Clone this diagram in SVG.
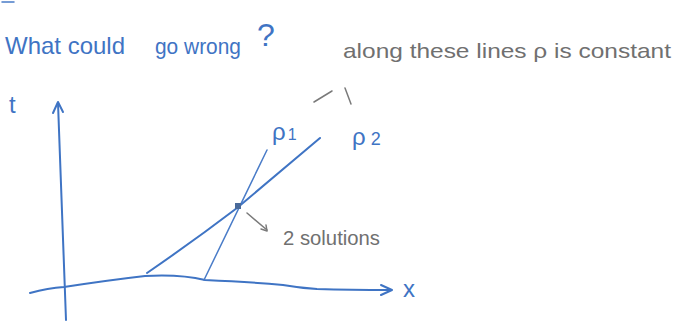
<svg xmlns="http://www.w3.org/2000/svg" width="679" height="325" viewBox="0 0 679 325">
<style>
.ink{fill:none;stroke:#3f74c4;stroke-width:2;stroke-linecap:round;stroke-linejoin:round}
.thin{fill:none;stroke:#4a7cc8;stroke-width:1.5;stroke-linecap:round}
.grey{fill:none;stroke:#7a7a7a;stroke-width:1.5;stroke-linecap:round;stroke-linejoin:round}
.bt{fill:#3f74c4;font-family:"Liberation Sans",Arial,sans-serif}
.gt{fill:#707070;font-family:"Liberation Sans",Arial,sans-serif}
</style>
<rect width="679" height="325" fill="#ffffff"/>
<g id="title">
<path class="thin" d="M2 2 L14 2"/>
<text class="bt" font-size="24" x="5" y="54" textLength="120" lengthAdjust="spacingAndGlyphs">What could</text>
<text class="bt" font-size="22" x="155" y="54" textLength="86" lengthAdjust="spacingAndGlyphs">go wrong</text>
<text class="bt" font-size="32" x="257" y="46">?</text>
</g>
<g id="note">
<text class="gt" font-size="21" x="343" y="58" textLength="328" lengthAdjust="spacingAndGlyphs">along these lines ρ is constant</text>
<path class="grey" d="M314 102 L332 91 M345 88 L351 104"/>
</g>
<g id="axes">
<path class="ink" d="M66 320 Q62 220 58 103"/>
<path class="ink" d="M53 113 L58 102 L63 112"/>
<path class="ink" d="M30 293 Q48 288 64 287 Q110 280 145 276 Q180 274 205 280 Q250 282 283 285 Q300 288 317 289 Q350 290 390 290"/>
<path class="ink" d="M381 285 L392 290 L381 295"/>
<text class="bt" font-size="24" x="9" y="113">t</text>
<text class="bt" font-size="24" x="403" y="297">x</text>
</g>
<g id="rho1">
<path class="thin" d="M204 280 L267 150"/>
<text class="bt" font-size="24" x="272" y="140">ρ<tspan font-size="16" dx="2">1</tspan></text>
</g>
<g id="rho2">
<path class="ink" d="M147 273 Q195 240 237 208 L320 138"/>
<text class="bt" font-size="24" x="352" y="145">ρ<tspan font-size="18" dx="5">2</tspan></text>
</g>
<g id="intersection">
<rect x="235" y="203" width="6" height="6" fill="#4a6a9a"/>
</g>
<g id="solutions">
<path class="grey" d="M247 213 L267 230"/>
<path class="grey" d="M261 229 L267 231 L266 225"/>
<text class="gt" font-size="21" x="283" y="245" textLength="97" lengthAdjust="spacingAndGlyphs">2 solutions</text>
</g>
</svg>
